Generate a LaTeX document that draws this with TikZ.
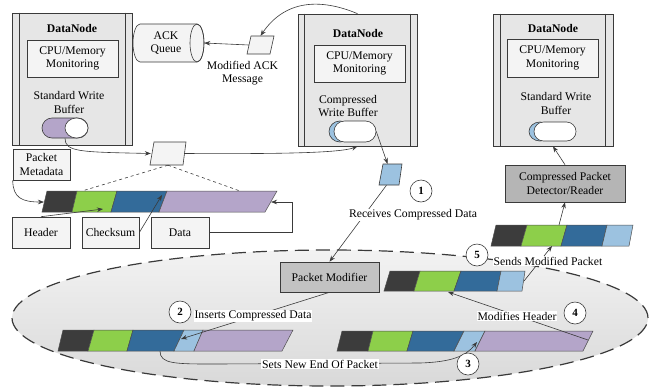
\documentclass[tikz,border=0pt]{standalone}
\usepackage{fontspec}
\setmainfont{Liberation Serif}
\usetikzlibrary{shapes.geometric,shapes.misc,arrows.meta,calc}
\definecolor{lc}{HTML}{3A3A3A}
\definecolor{dnfill}{HTML}{E6E6E6}
\definecolor{boxfill}{HTML}{F4F4F4}
\definecolor{cblack}{HTML}{3C3C3C}
\definecolor{cgreen}{HTML}{8DCF4A}
\definecolor{cblue}{HTML}{336B9A}
\definecolor{clblue}{HTML}{9CC2E0}
\definecolor{cpurple}{HTML}{B4A5C9}
\definecolor{pmfill}{HTML}{C2C2C2}
\definecolor{detfill}{HTML}{B5B5B5}
\newcommand\pseg[7]{\draw[segline, fill=#7] (#1,#5) -- (#2,#5) -- (#3,#6) -- (#4,#6) -- cycle;}
\begin{document}
\begin{tikzpicture}[x=1pt,y=-1pt,
  every node/.style={font=\fontsize{11.7}{13.5}\selectfont},
  ln/.style={draw=lc, line width=0.6pt},
  segline/.style={draw=lc!90, line width=0.5pt},
  arr/.style={draw=lc, line width=0.6pt, -{Stealth[length=6pt,width=4.5pt]}},
  dnbox/.style={draw=lc, fill=dnfill, line width=0.7pt, inner sep=0pt, minimum width=120pt, minimum height=132pt},
  ibox/.style={draw=lc, fill=boxfill, line width=0.6pt, inner sep=0pt, align=center},
  ttl/.style={font=\fontsize{11.7}{13.5}\selectfont\bfseries},
  txt/.style={align=center, inner sep=0pt},
  lbl/.style={fill=white, inner sep=1pt},
  num/.style={circle, draw=lc, fill=white, line width=0.6pt, minimum size=22pt, inner sep=0pt, font=\fontsize{11}{13}\selectfont\bfseries},
  anchorbox/.style={inner sep=0pt}
]
\useasboundingbox (0,0) rectangle (652,389);

% ---------- background ellipse ----------
\shade[top color=white!95!black, bottom color=white!85!black] (330,318) ellipse [x radius=318pt, y radius=68pt];
\draw[draw=lc, line width=1.2pt, dash pattern=on 14pt off 7pt] (330,318) ellipse [x radius=318pt, y radius=68pt];

% ---------- DataNodes ----------
\node[dnbox] (dn1) at (72,79) {};
\draw[ln] ([xshift=8pt]dn1.north west) -- ([xshift=8pt]dn1.south west);
\draw[ln] ([xshift=-7pt]dn1.north east) -- ([xshift=-7pt]dn1.south east);
\node[ttl] (dn1t) at (72,28) {DataNode};
\node[ibox, minimum width=91pt, minimum height=37pt] (cpu1) at (72.5,58.5) {CPU/Memory\\Monitoring};
\node[txt] (sw1) at (69,102.5) {Standard Write\\Buffer};
\node[rounded rectangle, draw=lc, fill=cpurple, line width=0.6pt, minimum width=46pt, minimum height=20pt, inner sep=0pt] (buf1) at (65,128) {};
\draw[ln, fill=white] (76.5,128) ellipse [x radius=11.5pt, y radius=10pt];

\node[dnbox, minimum width=119pt] (dn2) at (357.5,80) {};
\draw[ln] ([xshift=7pt]dn2.north west) -- ([xshift=7pt]dn2.south west);
\draw[ln] ([xshift=-7pt]dn2.north east) -- ([xshift=-7pt]dn2.south east);
\node[ttl] (dn2t) at (358,33) {DataNode};
\node[ibox, minimum width=91pt, minimum height=37pt] (cpu2) at (359.5,63.5) {CPU/Memory\\Monitoring};
\node[txt] (cw2) at (348,106) {Compressed\\Write Buffer};
\draw[ln, fill=clblue] (340,131.5) ellipse [x radius=11pt, y radius=10.5pt];
\node[rounded rectangle, draw=lc, fill=white, line width=0.6pt, minimum width=42pt, minimum height=21pt, inner sep=0pt] (buf2) at (355,131.5) {};

\node[dnbox] (dn3) at (553,80) {};
\draw[ln] ([xshift=8pt]dn3.north west) -- ([xshift=8pt]dn3.south west);
\draw[ln] ([xshift=-8pt]dn3.north east) -- ([xshift=-8pt]dn3.south east);
\node[ttl] (dn3t) at (553,28) {DataNode};
\node[ibox, minimum width=91pt, minimum height=38pt] (cpu3) at (552.5,58) {CPU/Memory\\Monitoring};
\node[txt] (sw3) at (556,103.5) {Standard Write\\Buffer};
\draw[ln, fill=clblue] (540,131.5) ellipse [x radius=11pt, y radius=9.5pt];
\node[rounded rectangle, draw=lc, fill=white, line width=0.6pt, minimum width=42pt, minimum height=19pt, inner sep=0pt] (buf3) at (555,131.5) {};

% ---------- ACK queue (cylinder) ----------
\draw[ln, fill=boxfill] (197,24) -- (140,24) arc[start angle=90, end angle=270, x radius=7pt, y radius=19pt] -- (197,62) arc[start angle=270, end angle=450, x radius=7pt, y radius=19pt] -- cycle;
\draw[ln] (197,43) ellipse [x radius=7pt, y radius=19pt];
\node[anchorbox, minimum width=71pt, minimum height=38pt] (ack) at (168.5,43) {};
\node[txt] (ackt) at (166,43) {ACK\\Queue};

% ---------- parallelograms ----------
\draw[ln, fill=boxfill] (251,36) -- (274,36) -- (270,54) -- (247,54) -- cycle;
\node[anchorbox, minimum width=23pt, minimum height=18pt] (ackmsg) at (260.5,45) {};
\node[txt] (ackmsgt) at (242.5,73) {Modified ACK\\Message};

\draw[ln, fill=boxfill] (154,142) -- (186,142) -- (183,165) -- (150,165) -- cycle;
\node[anchorbox, minimum width=34pt, minimum height=23pt] (para1) at (168,153.5) {};

\draw[ln, fill=clblue] (383,164) -- (402,164) -- (399,185) -- (379,185) -- cycle;
\node[anchorbox, minimum width=22pt, minimum height=21pt] (para2) at (390.5,174.5) {};

% ---------- side boxes ----------
\node[ibox, minimum width=57pt, minimum height=31pt] (meta) at (41.5,164.5) {Packet\\Metadata};
\node[ibox, minimum width=58pt, minimum height=31pt] (hdr) at (41,232.5) {Header};
\node[ibox, minimum width=57pt, minimum height=31pt] (chk) at (110.5,232.5) {Checksum};
\node[ibox, minimum width=58pt, minimum height=31pt] (data) at (180,232.5) {Data};

\node[draw=lc, fill=pmfill, line width=0.6pt, minimum width=99pt, minimum height=30pt, inner sep=0pt] (pm) at (329.5,277) {Packet Modifier};
\node[draw=lc, fill=detfill, line width=0.6pt, minimum width=120pt, minimum height=37pt, inner sep=0pt, align=center] (det) at (565,183.5) {Compressed Packet\\Detector/Reader};

% ---------- packet strips ----------
% left (original)
\pseg{47}{77}{72}{42}{191}{212}{cblack}
\pseg{77}{117}{111}{72}{191}{212}{cgreen}
\pseg{117}{167}{159}{111}{191}{212}{cblue}
\pseg{167}{277}{265}{159}{191}{212}{cpurple}
% top right
\pseg{496}{527}{521}{491}{225}{246}{cblack}
\pseg{527}{567}{561}{521}{225}{246}{cgreen}
\pseg{567}{607}{602}{561}{225}{246}{cblue}
\pseg{607}{633}{629}{602}{225}{246}{clblue}
% middle
\pseg{390}{420}{414}{384}{271}{291}{cblack}
\pseg{420}{461}{454}{414}{271}{291}{cgreen}
\pseg{461}{501}{497}{454}{271}{291}{cblue}
\pseg{501}{525}{522}{497}{271}{291}{clblue}
% bottom left
\pseg{63}{94}{88}{58}{330}{351}{cblack}
\pseg{94}{133}{127}{88}{330}{351}{cgreen}
\pseg{133}{184}{174}{127}{330}{351}{cblue}
\pseg{184}{203}{194}{174}{330}{351}{clblue}
\pseg{203}{293}{282}{194}{330}{351}{cpurple}
% bottom right
\pseg{342}{373}{368}{337}{331}{351}{cblack}
\pseg{373}{413}{407}{368}{331}{351}{cgreen}
\pseg{413}{464}{454}{407}{331}{351}{cblue}
\pseg{464}{485}{475}{454}{331}{351}{clblue}
\pseg{485}{593}{583}{475}{331}{351}{cpurple}

% anchor coordinates on strips
\coordinate (lsd1) at (82,191);
\coordinate (lsd2) at (240,191);
\coordinate (lsblack) at (44,202);
\coordinate (lsgreen) at (103,209);
\coordinate (lspurple) at (162,195);
\coordinate (lsend) at (271,202);
\coordinate (lsbend) at (292,202);
\coordinate (trtop) at (559,225);
\coordinate (trgreen) at (552,246);
\coordinate (mend) at (524,281);
\coordinate (mgreen) at (448,292);
\coordinate (bllb) at (181,339);
\coordinate (blblue) at (160,351);
\coordinate (brlb) at (477,342);
\coordinate (brpurple) at (588,340);

% ---------- connectors ----------
\draw[arr] (ackmsg.west) -- (ack.east);
\draw[arr] (dn2.north) .. controls (320,-2) and (285,0) .. (ackmsg.north);
\draw[arr] (buf1.south) .. controls (65,152) and (80,152) .. (para1.west);
\draw[arr] (para1.east) .. controls (280,154) and (340,153) .. (dn2.south);
\draw[ln, dashed] (para1.south) -- (lsd1);
\draw[ln, dashed] (para1.south) -- (lsd2);
\draw[arr] (meta.south west) .. controls (13,198) and (22,202) .. (lsblack);
\draw[arr] (hdr.north) -- (lsgreen);
\draw[arr] (chk.east) -- (lspurple);
\draw[arr] (data.east) -| (lsbend) -- (lsend);
\draw[arr] (buf2.east) -- ([xshift=-3pt]para2.north);
\draw[arr] ([xshift=-4pt]para2.south) -- (pm.north);
\draw[arr] (pm.south) -- (bllb);
\draw[arr] (blblue) .. controls (160,364) and (175,364) .. (215,364) -- (420,363) .. controls (452,362) and (466,356) .. (brlb);
\draw[arr] (brpurple) -- (mgreen);
\draw[arr] (mend) -- (trgreen);
\draw[arr] (trtop) -- (det.south);
\draw[arr] (det.north) -- (dn3.south);

% ---------- labels ----------
\node[lbl] (l1) at (413,215) {Receives Compressed Data};
\node[lbl] (l2) at (253,316) {Inserts Compressed Data};
\node[lbl] (l3) at (320,364) {Sets New End Of Packet};
\node[lbl] (l4) at (517,316) {Modifies Header};
\node[lbl] (l5) at (548,261) {Sends Modified Packet};

\node[num] (c1) at (421,191) {1};
\node[num] (c2) at (180,312) {2};
\node[num] (c3) at (468,364) {3};
\node[num] (c4) at (575,313) {4};
\node[num] (c5) at (477,255) {5};
\end{tikzpicture}
\end{document}
